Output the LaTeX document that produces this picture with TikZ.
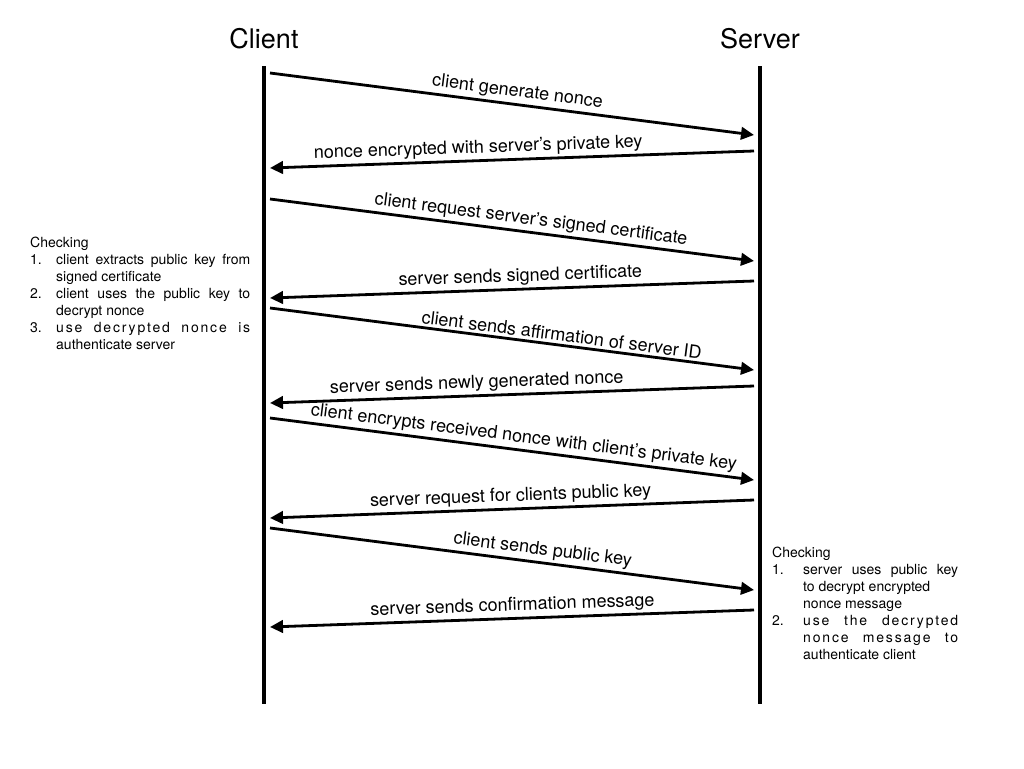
\documentclass[tikz,border=0pt]{standalone}
\usepackage{fontspec}
\setmainfont{TeX Gyre Heros}
\usetikzlibrary{arrows.meta}
\begin{document}
\begin{tikzpicture}[x=1pt,y=-1pt,
  life/.style={line width=4.5pt},
  msg/.style={line width=2.8pt,-{Triangle[length=13pt,width=12.5pt]}},
  lbl/.style={font=\fontsize{18}{20}\selectfont, sloped, above, inner sep=2.5pt},
  head/.style={font=\fontsize{27}{30}\selectfont, inner sep=0pt},
  note/.style={font=\fontsize{14}{17}\selectfont, inner sep=0pt, anchor=north west, align=justify}]
\useasboundingbox (0,0) rectangle (1024,768);
\fill[white] (0,0) rectangle (1024,768);

% headings
\node[head] (client) at (264,39) {Client};
\node[head] (server) at (760,39) {Server};

% lifelines
\coordinate (ctop) at (264,66);
\coordinate (cbot) at (264,704);
\coordinate (srvtop) at (760,66);
\coordinate (srvbot) at (760,704);
\draw[life] (ctop) -- (cbot);
\draw[life] (srvtop) -- (srvbot);

% message end points
\coordinate (a1) at (270,73);  \coordinate (b1) at (754,135);
\coordinate (a2) at (754,151); \coordinate (b2) at (270,168);
\coordinate (a3) at (270,199); \coordinate (b3) at (754,261);
\coordinate (a4) at (754,281); \coordinate (b4) at (270,298);
\coordinate (a5) at (270,308); \coordinate (b5) at (754,370);
\coordinate (a6) at (754,386); \coordinate (b6) at (270,403);
\coordinate (a7) at (270,418); \coordinate (b7) at (754,480);
\coordinate (a8) at (754,500); \coordinate (b8) at (270,518);
\coordinate (a9) at (270,528); \coordinate (b9) at (754,590);
\coordinate (a10) at (754,610); \coordinate (b10) at (270,627);

\draw[msg] (a1) -- node[lbl,pos=0.508] {client generate nonce} (b1);
\draw[msg] (a2) -- node[lbl,pos=0.569] {nonce encrypted with server’s private key} (b2);
\draw[msg] (a3) -- node[lbl,pos=0.536] {client request server’s signed certificate} (b3);
\draw[msg] (a4) -- node[lbl,pos=0.482] {server sends signed certificate} (b4);
\draw[msg] (a5) -- node[lbl,pos=0.600] {client sends affirmation of server ID} (b5);
\draw[msg] (a6) -- node[lbl,pos=0.572] {server sends newly generated nonce} (b6);
\draw[msg] (a7) -- node[lbl,pos=0.521] {client encrypts received nonce with client’s private key} (b7);
\draw[msg] (a8) -- node[lbl,pos=0.502] {server request for clients public key} (b8);
\draw[msg] (a9) -- node[lbl,pos=0.560] {client sends public key} (b9);
\draw[msg] (a10) -- node[lbl,pos=0.498] {server sends confirmation message} (b10);

% checking notes
\node[note, text width=220pt] (chkclient) at (30,237) {%
\hyphenpenalty=10000 \exhyphenpenalty=10000 \tolerance=9999 \parindent=0pt
Checking\par
\hangindent=26pt\hangafter=1 \makebox[26pt][l]{1.}client extracts public key from signed certificate\par
\hangindent=26pt\hangafter=1 \makebox[26pt][l]{2.}client uses the public key to decrypt nonce\par
\hangindent=26pt\hangafter=1 \makebox[26pt][l]{3.}{\addfontfeature{LetterSpace=13}use decrypted nonce is}\linebreak authenticate server\par};

\node[note, text width=186pt] (chkserver) at (772,547) {%
\hyphenpenalty=10000 \exhyphenpenalty=10000 \tolerance=9999 \parindent=0pt
Checking\par
\hangindent=31pt\hangafter=1 \makebox[31pt][l]{1.}server uses public key\linebreak to decrypt encrypted\newline nonce message\par
\hangindent=31pt\hangafter=1 \makebox[31pt][l]{2.}{\addfontfeature{LetterSpace=13}use the decrypted}\linebreak {\addfontfeature{LetterSpace=13}nonce message to}\linebreak authenticate client\par};
\end{tikzpicture}
\end{document}
